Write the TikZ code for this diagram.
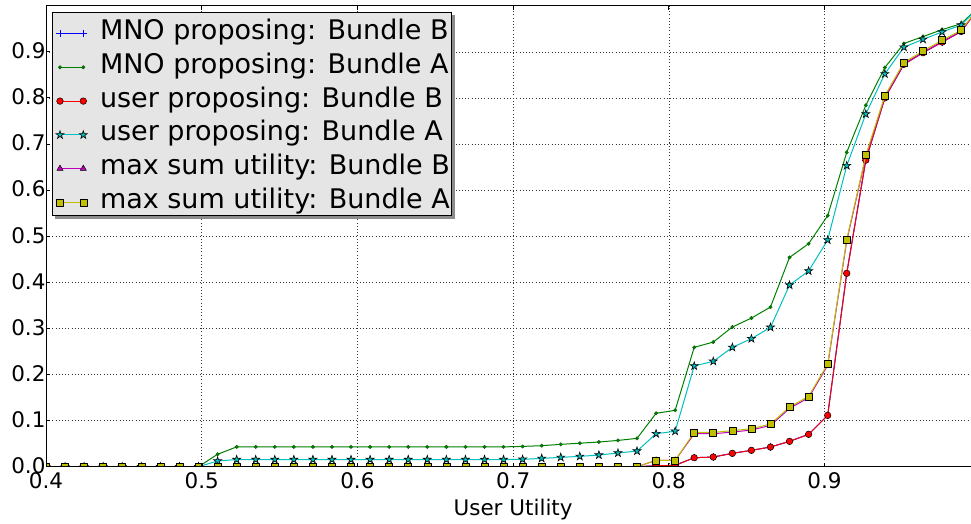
\documentclass[tikz,border=0pt]{standalone}
\usepackage{fontspec}
\setmainfont{DejaVu Sans}
\usetikzlibrary{plotmarks}
\definecolor{mplblue}{rgb}{0,0,1}
\definecolor{mplgreen}{rgb}{0,0.5,0}
\definecolor{mplred}{rgb}{1,0,0}
\definecolor{mplcyan}{rgb}{0,0.75,0.75}
\definecolor{mplmagenta}{rgb}{0.75,0,0.75}
\definecolor{mplyellow}{rgb}{0.75,0.75,0}
\definecolor{legendbg}{rgb}{0.898,0.898,0.898}
% filled five-pointed star marker
\pgfdeclareplotmark{fstar}{%
  \pgfpathmoveto{\pgfpointpolar{90}{\pgfplotmarksize}}%
  \pgfpathlineto{\pgfpointpolar{126}{0.382*\pgfplotmarksize}}%
  \pgfpathlineto{\pgfpointpolar{162}{\pgfplotmarksize}}%
  \pgfpathlineto{\pgfpointpolar{198}{0.382*\pgfplotmarksize}}%
  \pgfpathlineto{\pgfpointpolar{234}{\pgfplotmarksize}}%
  \pgfpathlineto{\pgfpointpolar{270}{0.382*\pgfplotmarksize}}%
  \pgfpathlineto{\pgfpointpolar{306}{\pgfplotmarksize}}%
  \pgfpathlineto{\pgfpointpolar{342}{0.382*\pgfplotmarksize}}%
  \pgfpathlineto{\pgfpointpolar{18}{\pgfplotmarksize}}%
  \pgfpathlineto{\pgfpointpolar{54}{0.382*\pgfplotmarksize}}%
  \pgfpathclose
  \pgfusepathqfillstroke
}
\begin{document}
\begin{tikzpicture}[x=1pt,y=1pt,
  every node/.style={inner sep=0pt, outer sep=0pt},
  ticklabel/.style={font=\fontsize{21.5pt}{24pt}\selectfont},
  legendtext/.style={font=\fontsize{27pt}{30pt}\selectfont, anchor=base west},
  gridline/.style={black!80, line width=0.6pt, dash pattern=on 1pt off 2.2pt},
  serline/.style={line width=1pt, line join=round},
  mnoB/.style={serline, mplblue, mark=+, mark size=3.6pt,
    mark options={solid, line width=0.9pt, draw=mplblue}},
  mnoA/.style={serline, mplgreen, mark=*, mark size=1.8pt,
    mark options={solid, line width=0.3pt, fill=mplgreen, draw=mplgreen!70!black}},
  userB/.style={serline, mplred, mark=*, mark size=3.3pt,
    mark options={solid, line width=0.5pt, fill=mplred, draw=black}},
  userA/.style={serline, mplcyan, mark=fstar, mark size=4.2pt,
    mark options={solid, line width=0.6pt, fill=mplcyan, draw=black, line join=miter}},
  maxB/.style={serline, mplmagenta, mark=triangle*, mark size=3.6pt,
    mark options={solid, line width=0.5pt, fill=mplmagenta, draw=black}},
  maxA/.style={serline, mplyellow, mark=square*, mark size=3.5pt,
    mark options={solid, line width=0.6pt, fill=mplyellow, draw=black}}
]
\useasboundingbox (0,0) rectangle (971,523);
\clip (0,0) rectangle (971,523);

% ---- data area: x in sample index k (utility 0.4 + 0.6k/49), y in share
\begin{scope}[shift={(46pt,56.3pt)}, x=19.065pt, y=461pt]
  \clip (0,0) rectangle (49,1.002);
  \foreach \gx in {8.1667,16.3333,24.5,32.6667,40.8333}
    \draw[gridline] (\gx,0) -- (\gx,1);
  \foreach \gy in {0.1,0.2,...,0.95}
    \draw[gridline] (0,\gy) -- (49,\gy);

  % MNO proposing: Bundle B
  \draw[mnoB] plot coordinates {(0,0) (1,0) (2,0) (3,0) (4,0) (5,0) (6,0) (7,0) (8,0) (9,0) (10,0) (11,0) (12,0) (13,0) (14,0) (15,0) (16,0) (17,0) (18,0) (19,0) (20,0) (21,0) (22,0) (23,0) (24,0) (25,0) (26,0) (27,0) (28,0) (29,0) (30,0) (31,0) (32,0.002) (33,0.003) (34,0.0195) (35,0.021) (36,0.029) (37,0.0355) (38,0.0427) (39,0.055) (40,0.0702) (41,0.1114) (42,0.4195) (43,0.665) (44,0.80) (45,0.873) (46,0.898) (47,0.921) (48,0.944) (49,1)};
  % MNO proposing: Bundle A
  \draw[mnoA] plot coordinates {(0,0) (1,0) (2,0) (3,0) (4,0) (5,0) (6,0) (7,0) (8,0) (9,0.027) (10,0.043) (11,0.043) (12,0.043) (13,0.043) (14,0.043) (15,0.043) (16,0.043) (17,0.043) (18,0.043) (19,0.043) (20,0.043) (21,0.043) (22,0.043) (23,0.043) (24,0.043) (25,0.044) (26,0.0456) (27,0.0485) (28,0.051) (29,0.0535) (30,0.057) (31,0.0615) (32,0.1158) (33,0.1223) (34,0.2589) (35,0.2704) (36,0.303) (37,0.3224) (38,0.3463) (39,0.454) (40,0.4837) (41,0.5445) (42,0.682) (43,0.784) (44,0.866) (45,0.918) (46,0.933) (47,0.948) (48,0.961) (49,1)};
  % user proposing: Bundle B
  \draw[userB] plot coordinates {(0,0) (1,0) (2,0) (3,0) (4,0) (5,0) (6,0) (7,0) (8,0) (9,0) (10,0) (11,0) (12,0) (13,0) (14,0) (15,0) (16,0) (17,0) (18,0) (19,0) (20,0) (21,0) (22,0) (23,0) (24,0) (25,0) (26,0) (27,0) (28,0) (29,0) (30,0) (31,0) (32,0.002) (33,0.003) (34,0.0195) (35,0.021) (36,0.029) (37,0.0355) (38,0.0427) (39,0.055) (40,0.0702) (41,0.1114) (42,0.4195) (43,0.665) (44,0.80) (45,0.873) (46,0.898) (47,0.921) (48,0.944) (49,1)};
  % user proposing: Bundle A
  \draw[userA] plot coordinates {(0,0) (1,0) (2,0) (3,0) (4,0) (5,0) (6,0) (7,0) (8,0) (9,0.0124) (10,0.0155) (11,0.0155) (12,0.0155) (13,0.0155) (14,0.0155) (15,0.0155) (16,0.0155) (17,0.0155) (18,0.0155) (19,0.0155) (20,0.0155) (21,0.0155) (22,0.0155) (23,0.0155) (24,0.0155) (25,0.016) (26,0.018) (27,0.0203) (28,0.0224) (29,0.0253) (30,0.0297) (31,0.034) (32,0.0715) (33,0.077) (34,0.2184) (35,0.2286) (36,0.2589) (37,0.2777) (38,0.3023) (39,0.394) (40,0.4245) (41,0.4918) (42,0.653) (43,0.765) (44,0.852) (45,0.91) (46,0.927) (47,0.943) (48,0.958) (49,1)};
  % max sum utility: Bundle B
  \draw[maxB] plot coordinates {(0,0) (1,0) (2,0) (3,0) (4,0) (5,0) (6,0) (7,0) (8,0) (9,0) (10,0) (11,0) (12,0) (13,0) (14,0) (15,0) (16,0) (17,0) (18,0) (19,0) (20,0) (21,0) (22,0) (23,0) (24,0) (25,0) (26,0) (27,0) (28,0) (29,0) (30,0) (31,0) (32,0.0138) (33,0.0138) (34,0.0715) (35,0.0715) (36,0.0751) (37,0.0795) (38,0.0896) (39,0.1265) (40,0.1497) (41,0.2198) (42,0.49) (43,0.6725) (44,0.802) (45,0.874) (46,0.8987) (47,0.922) (48,0.944) (49,1)};
  % max sum utility: Bundle A
  \draw[maxA] plot coordinates {(0,0) (1,0) (2,0) (3,0) (4,0) (5,0) (6,0) (7,0) (8,0) (9,0) (10,0) (11,0) (12,0) (13,0) (14,0) (15,0) (16,0) (17,0) (18,0) (19,0) (20,0) (21,0) (22,0) (23,0) (24,0) (25,0) (26,0) (27,0) (28,0) (29,0) (30,0) (31,0) (32,0.0138) (33,0.0138) (34,0.0745) (35,0.0745) (36,0.0781) (37,0.0825) (38,0.0926) (39,0.1295) (40,0.1527) (41,0.2228) (42,0.493) (43,0.6755) (44,0.805) (45,0.877) (46,0.9017) (47,0.925) (48,0.947) (49,1)};
\end{scope}

% ---- axes frame and ticks
\draw[line width=1pt] (971,517.3) -- (46,517.3) -- (46,56.3) -- (971,56.3);
\foreach \ty in {102.4,148.5,194.6,240.7,286.8,332.9,379.0,425.1,471.2}
  \draw[line width=0.8pt] (46,\ty) -- (50,\ty);
\foreach \tx in {201.7,357.4,513.1,668.8,824.5} {
  \draw[line width=0.8pt] (\tx,517.3) -- (\tx,513.3);
  \draw[line width=0.8pt] (\tx,56.3) -- (\tx,60.3);
}

% ---- tick labels
\foreach \i in {0,...,9}
  \node[ticklabel, anchor=base east] (ylab\i) at (45.5, {56.3+46.1*\i-6.8}) {0.\i};
\foreach \t/\xx in {4/46, 5/201.7, 6/357.4, 7/513.1, 8/668.8, 9/824.5}
  \node[ticklabel, anchor=base] (xlab\t) at (\xx, 34.7) {0.\t};
\node[ticklabel, anchor=base] (xaxislabel) at (513.1, 8) {User Utility};

% ---- legend
\fill[black!45] (55.3,304.3) rectangle (454.7,507.7);
\filldraw[fill=legendbg, draw=black, line width=0.8pt] (52.3,307.3) rectangle (451.7,510.7);
\draw[mnoB]  plot coordinates {(60,489.5) (83.3,489.5)};
\draw[mnoA]  plot coordinates {(60,455.7) (83.3,455.7)};
\draw[userB] plot coordinates {(60,421.9) (83.3,421.9)};
\draw[userA] plot coordinates {(60,388.1) (83.3,388.1)};
\draw[maxB]  plot coordinates {(60,354.3) (83.3,354.3)};
\draw[maxA]  plot coordinates {(60,320.5) (83.3,320.5)};
\node[legendtext] (leg1) at (100,483.5) {MNO proposing: Bundle B};
\node[legendtext] (leg2) at (100,449.7) {MNO proposing: Bundle A};
\node[legendtext] (leg3) at (100,415.9) {user proposing: Bundle B};
\node[legendtext] (leg4) at (100,382.1) {user proposing: Bundle A};
\node[legendtext] (leg5) at (100,348.3) {max sum utility: Bundle B};
\node[legendtext] (leg6) at (100,314.5) {max sum utility: Bundle A};
\end{tikzpicture}
\end{document}
